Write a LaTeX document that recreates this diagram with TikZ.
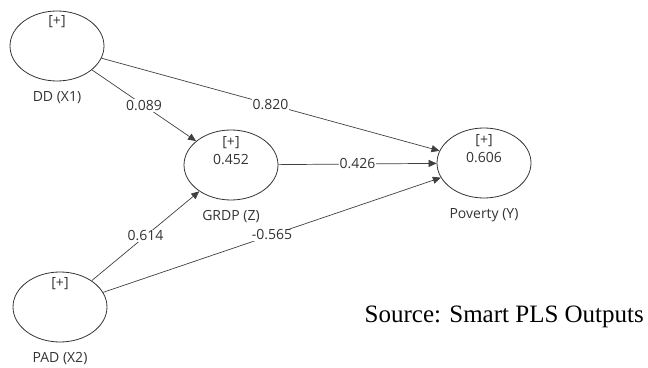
\documentclass[tikz,border=0pt]{standalone}
\usepackage{fontspec}
\setmainfont{Open Sans}
\newfontfamily\sourcefont{Liberation Serif}
\usetikzlibrary{shapes.geometric, arrows.meta, positioning}

\begin{document}
\begin{tikzpicture}[x=1pt, y=1pt, ->, >={Triangle[length=8pt,width=7pt]}, on grid, black!75, line width=0.7pt,
  every node/.style={font=\fontsize{14}{16}\selectfont, text=black!80},
  latent/.style={ellipse, draw=black!80, line width=0.8pt, minimum width=94pt, minimum height=70pt, inner sep=0pt},
  weight/.style={fill=white, inner sep=1pt}]
\useasboundingbox (0,0) rectangle (648,367);

\node[latent] (dd) at (57,321) {};
\node[latent] (grdp) at (231,202) {};
\node[latent] (pov) at (484,204) {};
\node[latent] (pad) at (60,60) {};

% inside the circles
\node[above=24pt of dd] (ddsign) {[+]};
\node[above=22pt of grdp] (grdpsign) {[+]};
\node[above=5pt of grdp] (grdpval) {0.452};
\node[above=22pt of pov] (povsign) {[+]};
\node[above=5pt of pov] (povval) {0.606};
\node[above=23pt of pad] (padsign) {[+]};

% names under the circles
\node[below=52pt of dd] (ddname) {DD (X1)};
\node[below=52pt of grdp] (grdpname) {GRDP (Z)};
\node[below=52pt of pov] (povname) {Poverty (Y)};
\node[below=52pt of pad] (padname) {PAD (X2)};

% Paths
\foreach \from/\to/\w in {dd/grdp/0.089, dd/pov/0.820, grdp/pov/0.426, pad/grdp/0.614, pad/pov/-0.565} {
	\path (\from) edge node[weight] {\w} (\to);
}

\node[anchor=base west, font=\sourcefont\fontsize{25}{30}\selectfont, text=black] (src) at (361,45) {Source: Smart PLS Outputs};
\end{tikzpicture}
\end{document}
